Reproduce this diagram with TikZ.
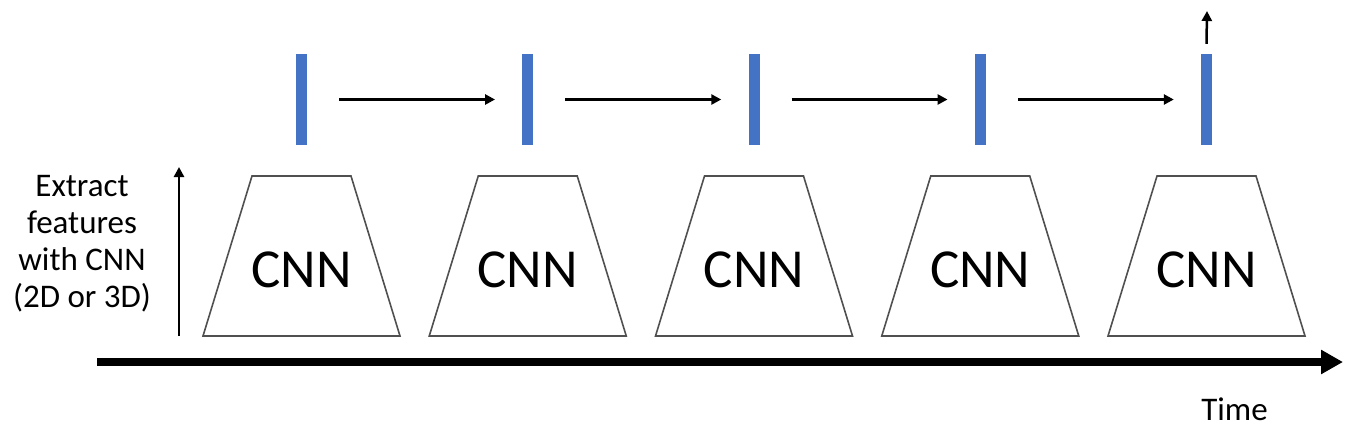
\documentclass[tikz,border=0pt]{standalone}
\usepackage{fontspec}
\setmainfont{Carlito}
\usetikzlibrary{arrows.meta,calc}
\definecolor{barblue}{HTML}{4472C4}
\definecolor{edgegray}{HTML}{505050}
\begin{document}
\begin{tikzpicture}[x=1pt,y=-1pt,
  featbar/.style={draw=none,fill=barblue,minimum width=11pt,minimum height=91pt,inner sep=0pt},
  cnnbox/.style={draw=edgegray,line width=1.6pt,line join=miter},
  cnntext/.style={font=\fontsize{55pt}{60pt}\selectfont,inner sep=0pt},
  flowarrow/.style={line width=2.5pt,-{Triangle[length=10pt,width=10pt]}},
  timearrow/.style={line width=8pt,-{Triangle[length=22pt,width=23pt]}},
  lbl/.style={font=\fontsize{33pt}{37pt}\selectfont,align=center,inner sep=0pt}]
\useasboundingbox (0,0) rectangle (1370,442);
\foreach \i in {1,...,5}{
  \pgfmathsetmacro{\cx}{301.5+226.25*(\i-1)}
  \node[featbar] (b\i) at (\cx,99.5) {};
  \draw[cnnbox] (\cx-49.5,176) -- (\cx+49.5,176) -- (\cx+98.5,336) -- (\cx-98.5,336) -- cycle;
  \node[cnntext] (c\i) at (\cx,270) {CNN};
}
\foreach \i/\j in {1/2,2/3,3/4,4/5}{
  \draw[flowarrow,shorten <=32pt,shorten >=27pt] (b\i.east) -- (b\j.west);
}
\coordinate (outtop) at (1207,11);
\draw[flowarrow] ($(b5.north)+(0,-10)$) -- (outtop);
\node[lbl] (extract) at (82,244) {Extract\\features\\with CNN\\(2D or 3D)};
\coordinate (vbot) at (179,336);
\coordinate (vtop) at (179,167);
\draw[flowarrow] (vbot) -- (vtop);
\coordinate (tstart) at (97,362);
\coordinate (tend) at (1343,362);
\draw[timearrow] (tstart) -- (tend);
\node[font=\fontsize{33pt}{38pt}\selectfont,inner sep=0pt] (time) at (1234.5,409) {Time};
\end{tikzpicture}
\end{document}
